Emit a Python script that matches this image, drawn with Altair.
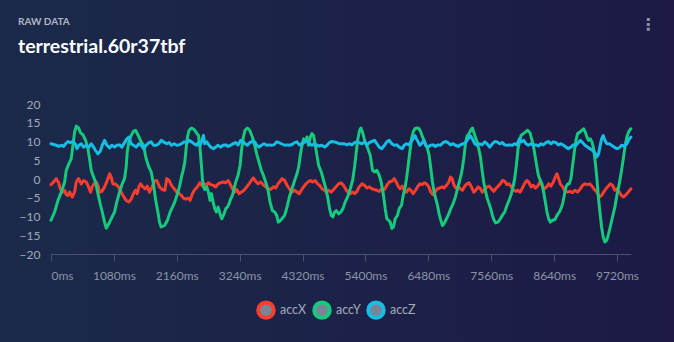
import altair as alt
import pandas as pd

# ---------------- data ----------------
SERIES = ["accX", "accY", "accZ"]
COLORS = ["#fb3d2e", "#16c97d", "#17bee4"]
X_TICKS = [0, 1080, 2160, 3240, 4320, 5400, 6480, 7560, 8640, 9720]
Y_TICKS = [-20, -15, -10, -5, 0, 5, 10, 15, 20]
TITLE = "RAW DATA"
SUBTITLE = "terrestrial.60r37tbf"

ACCX_T = [0, 45, 91, 131, 160, 194, 234, 262, 291, 320, 365, 405, 434, 474, 520, 560, 605, 645, 680, 708,
          737, 777, 806, 834, 874, 920, 966, 1006, 1034, 1063, 1103, 1149, 1189, 1234, 1291, 1337, 1377, 1417,
          1452, 1480, 1509, 1537, 1577, 1617, 1652, 1692, 1737, 1777, 1817, 1863, 1909, 1955,
          1989, 2029, 2069, 2115, 2160, 2200, 2240, 2275, 2315, 2355, 2389, 2429, 2469, 2515, 2555, 2589,
          2629, 2669, 2703, 2743, 2789, 2829, 2869, 2915, 2955, 3001, 3041, 3075, 3115, 3155, 3189, 3229,
          3269, 3315, 3361, 3401, 3441, 3475, 3515, 3555, 3601, 3641, 3687, 3727, 3772, 3818, 3858, 3898, 3944,
          3967, 4013, 4053, 4093, 4138, 4184, 4224, 4264, 4298, 4338, 4378, 4413, 4453, 4493, 4538, 4578,
          4613, 4653, 4693, 4727, 4767, 4813, 4853, 4893, 4939, 4979, 5024, 5064, 5099, 5139, 5179, 5213,
          5253, 5293, 5339, 5385, 5425, 5465, 5510, 5550, 5596, 5636, 5682, 5727, 5767, 5808, 5853, 5893,
          5928, 5968,
          5991, 6031, 6065, 6105, 6145, 6179, 6219, 6259, 6294, 6334, 6374, 6408, 6448, 6488, 6522, 6562,
          6602, 6637, 6677, 6717, 6751, 6791, 6831, 6859, 6888, 6917, 6951, 6991, 7031, 7065, 7105, 7145,
          7180, 7220, 7260, 7294, 7334, 7374, 7408, 7448, 7488, 7523, 7563, 7603, 7637, 7677, 7717, 7751,
          7791, 7831, 7866, 7906, 7946, 7991,
          8014, 8054, 8089, 8129, 8169, 8203, 8243, 8283, 8317, 8357, 8397, 8432, 8472, 8512, 8546, 8586,
          8626, 8660, 8689, 8717, 8746, 8786, 8826, 8872, 8912, 8957, 8997, 9043, 9089, 9129, 9169, 9215,
          9255, 9300, 9340, 9375, 9415, 9455, 9489, 9529, 9569, 9603, 9643, 9683, 9718, 9758, 9798, 9832,
          9872, 9912, 9958]
ACCX_V = [-1.5, -0.8, 0.1, -1.0, -2.6, -3.5, -3.0, -4.2, -4.4, -3.5, -4.8, -3.5, -0.8, 0.1, -1.3, -0.4, -0.8,
          -2.1, -3.5, -2.1, -1.3, -0.8, -1.7, -3.5, -3.3, -2.1, -0.4, 1.4, 0.5, -1.3, -1.3, -1.9, -3.0, -4.4,
          -5.7, -6.1, -5.4, -3.9, -3.0, -3.9, -2.1, -1.3, -2.1, -2.6, -1.9, -3.5, -2.1, -0.6, -0.4, -2.1, -2.8, -3.0,
          0.1, -0.4, -1.7, -2.6, -3.5, -3.9, -4.4, -5.1, -5.4, -5.1, -5.7, -3.9, -2.8, -2.1, -1.0, -1.7,
          -1.3, -1.7, -1.0, -1.5, -1.7, -2.1, -1.3, -1.0, -0.8, -1.0, -0.4, -1.3, -2.6, -3.5, -2.8, -3.9,
          -3.5, -3.0, -2.1, -1.3, -0.4, 0.3, -0.6, -1.3, -0.8, -1.5, -2.1, -2.6, -2.8, -2.1, -2.4, -1.3, -0.4,
          0.1, -0.4, -1.7, -2.6, -3.5, -3.0, -3.5, -3.9, -3.0, -2.1, -1.3, -0.8, -0.4, -0.8, -0.4, -1.3,
          -1.7, -2.6, -3.0, -3.5, -3.0, -3.5, -2.8, -2.1, -1.3, -1.0, -1.7, -2.8, -3.5, -3.9, -3.5, -3.9,
          -3.3, -2.1, -1.3, -1.7, -2.4, -2.1, -2.6, -2.8, -3.0, -3.3, -2.6, -2.8, -1.7, -0.8, -0.6, 0.1,
          -0.8, -2.1,
          -2.6, -1.9, -3.0, -3.5, -2.6, -3.0, -3.9, -3.0, -2.1, -1.3, -1.5, -1.0, -1.3, -2.1, -3.5, -4.2,
          -3.3, -2.6, -2.4, -2.1, -2.4, -1.7, -0.8, 0.5, 0.1, -1.5, -2.4, -2.1, -2.6, -3.0, -1.9, -1.3,
          -1.0, -2.1, -3.5, -3.0, -2.1, -2.6, -3.5, -2.8, -2.1, -1.9, -2.6, -3.3, -2.6, -1.9, -1.3, -0.4,
          -0.6, -1.5, -1.3, -2.1, -3.0, -3.3,
          -3.0, -3.5, -2.6, -1.3, -0.4, -0.8, -2.1, -1.7, -2.4, -1.9, -0.8, -1.7, -2.6, -2.1, -1.3, -1.9,
          -0.8, 0.5, 1.4, 0.1, -1.3, -2.1, -3.3, -3.5, -3.3, -3.6, -3.0, -3.5, -2.6, -1.7, -1.3, -1.5,
          -1.3, -2.1, -3.0, -3.5, -4.8, -4.4, -3.5, -2.6, -1.9, -1.3, -1.7, -3.0, -2.6, -3.5, -4.4, -4.8,
          -4.2, -3.5, -2.6]

ACCY_T = [0, 62, 120, 177, 234, 262, 308, 348, 377, 405, 434, 474, 508, 548, 594, 634, 662, 691, 720, 765,
          806, 845, 880, 920, 948, 994, 1034, 1091, 1131, 1177, 1223, 1263, 1291, 1309, 1337, 1377, 1417, 1451,
          1492, 1549, 1589, 1634, 1680, 1720, 1760, 1794, 1835, 1863, 1892, 1949,
          2000, 2046, 2086, 2126, 2172, 2212, 2240, 2269, 2298, 2320, 2343, 2372, 2412, 2458, 2498, 2532,
          2560, 2583, 2600, 2618, 2641, 2675, 2703, 2732, 2755, 2783, 2812, 2841, 2869, 2903, 2932, 2972,
          3001, 3029, 3058, 3086, 3115, 3144, 3172, 3212, 3247, 3275, 3304, 3332, 3372, 3412, 3458, 3498,
          3532, 3572, 3612, 3647, 3687, 3727, 3761, 3801, 3841, 3875, 3904, 3944,
          4012, 4053, 4093, 4138, 4184, 4224, 4253, 4281, 4310, 4338, 4367, 4396, 4424, 4453, 4481, 4510,
          4538, 4567, 4596, 4641, 4681, 4721, 4756, 4784, 4813, 4841, 4870, 4899, 4939, 4979, 5013, 5053,
          5093, 5139, 5179, 5213, 5242, 5270, 5299, 5322, 5350, 5379, 5407, 5442, 5482, 5522, 5556, 5596,
          5636, 5670, 5710, 5739, 5767, 5796, 5825, 5853, 5882, 5910, 5950, 5979,
          6019, 6048, 6076, 6105, 6134, 6162, 6191, 6219, 6248, 6288, 6322, 6351, 6379, 6408, 6436, 6465,
          6494, 6522, 6551, 6579, 6608, 6637, 6665, 6694, 6722, 6751, 6791, 6831, 6865, 6905, 6945, 6980,
          7019, 7054, 7088, 7117, 7145, 7179, 7208, 7237, 7260, 7288, 7317, 7345, 7374, 7403, 7431, 7465,
          7494, 7523, 7551, 7580, 7608, 7637, 7677, 7717, 7751, 7791, 7831, 7866, 7906, 7934, 7963, 7991, 8020,
          8071, 8111, 8146, 8186, 8226, 8254, 8283, 8311, 8340, 8369, 8403, 8431, 8460, 8489, 8517, 8546,
          8574, 8614, 8654, 8689, 8729, 8757, 8786, 8814, 8843, 8872, 8900, 8929, 8957, 8986, 9015, 9043,
          9083, 9117, 9146, 9175, 9203, 9232, 9261, 9289, 9318, 9346, 9375, 9397, 9426, 9455, 9483, 9512,
          9541, 9569, 9603, 9643, 9683, 9717, 9758, 9798, 9832, 9861, 9889, 9918, 9946, 9957]
ACCY_V = [-11.0, -8.8, -5.7, -3.5, -0.8, 2.3, 4.1, 5.4, 9.0, 12.5, 14.1, 13.6, 12.3, 11.8, 10.3, 8.1, 5.4,
          2.3, 1.0, -0.8, -3.9, -6.6, -8.8, -11.5, -13.1, -11.9, -10.6, -8.8, -6.1, -3.5, -1.3, 0.1, 3.2, 7.2,
          9.9, 11.6, 12.7, 13.0, 11.8, 9.9, 9.0, 5.4, 3.2, 1.9, -1.3, -5.3, -8.8, -11.5, -12.8, -12.4,
          -11.0, -8.8, -7.5, -6.1, -3.9, -1.7, 0.5, 2.3, 4.5, 8.1, 11.2, 13.0, 13.6, 13.2, 12.3, 11.6,
          8.1, 3.6, 0.1, -2.1, -2.8, -2.1, -3.5, -5.7, -3.9, -6.1, -7.9, -8.8, -7.5, -9.3, -10.6, -9.3,
          -7.9, -7.5, -6.6, -5.3, -4.4, -2.6, -0.8, 1.0, 3.6, 8.1, 11.2, 13.0, 13.6, 13.0, 11.2, 9.0,
          6.7, 4.5, 2.3, 1.0, -0.8, -3.0, -6.1, -8.4, -8.8, -9.7, -11.5, -11.0,
          -9.7, -7.5, -4.8, -2.6, -0.4, 1.4, 3.2, 6.3, 9.0, 10.7, 9.9, 11.2, 9.0, 11.2, 12.1, 11.6,
          9.0, 6.3, 3.6, 1.9, -0.4, -2.6, -5.3, -7.9, -9.7, -10.1, -8.8, -8.4, -9.3, -8.8, -7.9, -6.1,
          -4.8, -2.6, -0.4, 3.2, 7.2, 10.7, 13.0, 13.6, 12.5, 10.7, 9.4, 8.1, 6.3, 2.3, 1.9, 2.3,
          1.0, -0.8, -4.4, -7.9, -10.6, -11.0, -11.5, -13.2, -12.8, -10.6, -9.7, -7.9,
          -7.0, -4.4, -2.6, 0.1, 3.6, 7.2, 10.7, 12.5, 13.4, 13.6, 13.4, 12.5, 11.2, 10.3, 9.0, 8.1,
          6.3, 2.8, -0.8, -3.5, -5.3, -7.0, -9.3, -11.0, -12.4, -11.9, -10.6, -9.3, -7.9, -6.6, -4.8, -2.6,
          -0.4, 1.9, 5.4, 9.4, 11.5, 12.1, 13.0, 13.6, 12.5, 11.2, 9.9, 8.1, 5.9, 2.3, -0.8, -3.5,
          -5.3, -6.6, -7.9, -9.7, -11.0, -11.7, -11.5, -10.6, -9.7, -8.8, -7.0, -5.7, -3.9, -2.1, 0.1, 3.6, 8.1,
          11.6, 12.1, 12.5, 13.0, 12.3, 10.7, 9.0, 6.3, 3.6, 1.0, -0.4, -1.3, -3.5, -6.1, -8.8, -10.6,
          -11.5, -11.0, -10.8, -9.7, -8.8, -7.9, -6.6, -4.4, -2.1, -1.3, -1.3, 0.1, 3.6, 7.2, 10.3, 12.1,
          12.5, 13.0, 13.4, 12.5, 11.2, 10.3, 10.7, 9.9, 8.1, 4.5, 0.1, -4.4, -8.8, -12.8, -15.5, -16.8,
          -16.4, -15.0, -12.8, -10.1, -7.5, -4.4, -1.3, 2.3, 5.9, 9.0, 11.2, 12.5, 13.2, 13.4]

ACCZ_T = [0, 45, 91, 137, 177, 217, 251, 291, 331, 377, 417, 445, 480, 520, 560, 605, 651, 691, 731, 765,
          806, 846, 880, 920, 960, 1006, 1046, 1091, 1131, 1177, 1217, 1263, 1303, 1337, 1377, 1417, 1463, 1509,
          1549, 1589, 1634, 1680, 1720, 1760, 1806, 1852, 1892, 1932,
          1989, 2029, 2069, 2115, 2160, 2200, 2240, 2286, 2332, 2372, 2412, 2458, 2498, 2532, 2561, 2601,
          2618, 2641, 2675, 2715, 2743, 2789, 2829, 2869, 2915, 2955, 3001, 3041, 3086, 3126, 3172, 3212,
          3258, 3298, 3332, 3372, 3412, 3458, 3498, 3532, 3572, 3612, 3658, 3704, 3744, 3784, 3830, 3875, 3915, 3955,
          4013, 4053, 4093, 4138, 4184, 4224, 4264, 4310, 4356, 4396, 4436, 4481, 4521, 4567, 4607, 4653,
          4699, 4739, 4779, 4824, 4864, 4910, 4950, 4996, 5042, 5082, 5122, 5167, 5213, 5253, 5293, 5339,
          5385, 5425, 5465, 5510, 5556, 5596, 5636, 5682, 5727, 5767, 5808, 5853, 5893, 5939, 5979,
          6031, 6065, 6105, 6145, 6179, 6219, 6248, 6276, 6305, 6334, 6362, 6402, 6436, 6476, 6516, 6562,
          6602, 6648, 6688, 6734, 6774, 6819, 6859, 6905, 6945, 6991, 7031, 7077, 7117, 7162, 7202, 7237,
          7277, 7317, 7363, 7403, 7448, 7488, 7534, 7580, 7620, 7660, 7706, 7751, 7791, 7831, 7877, 7923, 7963, 8003,
          8043, 8083, 8117, 8157, 8197, 8243, 8283, 8329, 8369, 8414, 8454, 8500, 8540, 8586, 8626, 8672,
          8712, 8757, 8803, 8843, 8883, 8929, 8969, 9015, 9055, 9089, 9129, 9169, 9215, 9255, 9300, 9340,
          9375, 9403, 9432, 9455, 9483, 9512, 9546, 9586, 9626, 9672, 9718, 9758, 9798, 9844, 9889, 9929, 9958]
ACCZ_V = [9.4, 9.2, 9.0, 8.7, 9.0, 8.7, 9.4, 10.0, 9.7, 10.0, 9.4, 8.1, 9.0, 9.4, 8.5, 9.0, 8.5, 9.4, 8.5,
          7.6, 6.7, 7.4, 9.0, 10.3, 9.0, 8.3, 9.0, 8.5, 9.0, 9.1, 8.5, 9.7, 10.7, 11.2, 9.4, 9.0, 8.5, 9.4,
          9.0, 8.1, 9.0, 9.7, 9.9, 9.0, 9.0, 9.4, 10.3, 9.9,
          9.4, 9.7, 9.0, 9.4, 9.0, 9.1, 9.4, 9.9, 9.7, 10.3, 9.9, 9.4, 9.0, 9.7, 9.0, 10.7,
          11.6, 9.4, 9.9, 9.0, 8.5, 8.1, 8.5, 9.0, 8.5, 9.0, 9.1, 8.7, 9.0, 9.4, 9.7, 9.1,
          10.3, 10.0, 9.4, 9.0, 9.7, 10.0, 9.9, 9.0, 8.5, 9.0, 9.4, 9.0, 9.1, 9.0, 9.1, 9.9, 9.7, 9.4,
          9.0, 9.1, 9.0, 9.2, 9.7, 9.9, 9.1, 9.4, 9.9, 10.3, 9.4, 9.0, 9.4, 9.0, 8.8, 9.0,
          8.5, 9.0, 9.7, 10.0, 9.9, 9.7, 9.4, 9.4, 9.4, 9.1, 9.4, 9.1, 9.7, 9.9, 9.7, 9.4,
          9.9, 9.0, 9.7, 10.0, 10.3, 9.4, 8.5, 8.1, 9.0, 9.9, 10.3, 9.4, 9.0, 9.1, 8.5,
          8.1, 9.0, 9.4, 9.1, 9.9, 10.7, 11.6, 10.7, 9.9, 9.0, 9.4, 10.3, 9.0, 8.5, 9.0, 9.1,
          8.7, 9.1, 9.0, 9.7, 10.0, 9.7, 9.1, 9.4, 9.0, 8.7, 9.1, 9.4, 9.7, 10.7, 11.5, 10.7,
          9.4, 9.0, 9.4, 9.1, 9.9, 9.4, 8.5, 9.4, 10.0, 9.9, 9.4, 9.7, 9.1, 9.0, 9.1, 9.0, 9.4, 9.1,
          10.7, 9.9, 10.3, 9.4, 9.0, 9.4, 9.0, 9.1, 8.8, 9.4, 9.1, 9.7, 10.0, 9.4, 9.9, 9.7,
          9.1, 9.4, 9.0, 8.5, 8.1, 8.5, 9.1, 9.0, 9.7, 10.3, 9.7, 9.0, 8.5, 8.1, 7.6, 7.0,
          5.9, 6.7, 9.0, 10.7, 11.6, 10.3, 9.4, 9.4, 9.0, 8.5, 8.1, 8.3, 9.0, 8.8, 9.4, 10.7, 11.2]

# ---------------- table for the library ----------------
rows = []
for name, ts, vs in zip(SERIES, [ACCX_T, ACCY_T, ACCZ_T], [ACCX_V, ACCY_V, ACCZ_V]):
    for t, v in zip(ts, vs):
        rows.append({"series": name, "t": t, "v": v})
df = pd.DataFrame(rows)

W, H = 580, 150
LEFT, TOP = 51, 104
PAD = {"left": LEFT, "top": TOP, "right": 674 - LEFT - W, "bottom": 342 - TOP - H}

bg = alt.Chart(alt.Data(values=[{}])).mark_rect(
    color=alt.Gradient(
        gradient="linear",
        stops=[alt.GradientStop(color="#1b2a4a", offset=0),
               alt.GradientStop(color="#1c2147", offset=0.55),
               alt.GradientStop(color="#1d1a46", offset=1)],
        x1=0, x2=1, y1=0, y2=0,
    )
).encode(x=alt.value(-LEFT), x2=alt.value(674 - LEFT), y=alt.value(-TOP), y2=alt.value(342 - TOP))

lines = alt.Chart(df).mark_line(strokeWidth=3, strokeCap="round", strokeJoin="round").encode(
    x=alt.X("t:Q", scale=alt.Scale(domain=[0, 9960], nice=False, zero=False),
            axis=alt.Axis(values=X_TICKS, labelExpr="datum.value + 'ms'", title=None, grid=False,
                          domainColor="#46526e", tickColor="#46526e", tickSize=7, labelPadding=9,
                          labelColor="#8b94a6", labelFontSize=12, labelFont="Lato", zindex=1)),
    y=alt.Y("v:Q", scale=alt.Scale(domain=[-20, 20], nice=False),
            axis=alt.Axis(values=Y_TICKS, title=None, grid=False, domain=False, ticks=False,
                          labelPadding=11, labelColor="#a1a9b9", labelFontSize=12, labelFont="Lato",
                          zindex=1)),
    color=alt.Color("series:N", scale=alt.Scale(domain=SERIES, range=COLORS),
                    legend=alt.Legend(title=None, orient="none", legendX=205, legendY=196,
                                      direction="horizontal", symbolType="circle", symbolSize=240,
                                      symbolStrokeWidth=4, symbolFillColor="#7b8496", symbolOpacity=1,
                                      labelFont="Lato", labelFontSize=12.5, labelColor="#a3abbb",
                                      labelOffset=4, columnPadding=-1, padding=0)),
)

heads = alt.Chart(alt.Data(values=[{"k": TITLE}])).mark_text(
    font="Lato", fontSize=10, fontWeight="bold", color="#aeb6c4", align="left", baseline="alphabetic"
).encode(text="k:N", x=alt.value(18 - LEFT), y=alt.value(25 - TOP))

sub = alt.Chart(alt.Data(values=[{"k": SUBTITLE}])).mark_text(
    font="Lato", fontSize=19.5, fontWeight="bold", color="#ffffff", align="left", baseline="alphabetic"
).encode(text="k:N", x=alt.value(18 - LEFT), y=alt.value(53 - TOP))

kebab = alt.Chart(alt.Data(values=[{"k": "⋮"}])).mark_text(
    font="DejaVu Sans", fontSize=16, fontWeight="bold", color="#8d95a6"
).encode(text="k:N", x=alt.value(648 - LEFT), y=alt.value(25 - TOP))

chart = alt.layer(bg, lines, heads, sub, kebab).properties(
    width=W, height=H, padding=PAD, autosize="none", background="#1c2247",
).configure_view(stroke=None)

chart.save("out.html", embed_options={"renderer": "svg", "actions": False})
